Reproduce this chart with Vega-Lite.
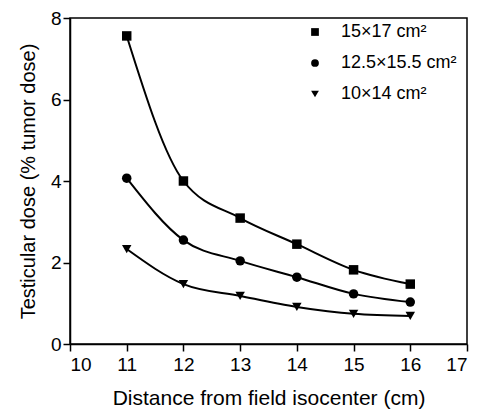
{
  "$schema": "https://vega.github.io/schema/vega-lite/v6.json",
  "width": 397,
  "height": 326,
  "autosize": {"type": "none"},
  "padding": {"left": 70, "top": 18, "right": 17, "bottom": 69},
  "background": "white",
  "config": {
    "font": "Liberation Sans",
    "view": {"stroke": "black", "strokeWidth": 1.5},
    "axis": {"grid": false, "domainColor": "black", "domainWidth": 1.5, "tickColor": "black", "tickWidth": 1.5, "tickSize": 7, "labelColor": "black", "titleColor": "black", "labelFontSize": 19, "titleFontSize": 20, "titleFontWeight": "normal", "labelFont": "Liberation Sans", "titleFont": "Liberation Sans"}
  },
  "data": {
    "values": [
      {"series": "15×17 cm²", "distance": 11, "dose": 7.56},
      {"series": "15×17 cm²", "distance": 12, "dose": 4.0},
      {"series": "15×17 cm²", "distance": 13, "dose": 3.09},
      {"series": "15×17 cm²", "distance": 14, "dose": 2.45},
      {"series": "15×17 cm²", "distance": 15, "dose": 1.82},
      {"series": "15×17 cm²", "distance": 16, "dose": 1.47},
      {"series": "12.5×15.5 cm²", "distance": 11, "dose": 4.07},
      {"series": "12.5×15.5 cm²", "distance": 12, "dose": 2.55},
      {"series": "12.5×15.5 cm²", "distance": 13, "dose": 2.04},
      {"series": "12.5×15.5 cm²", "distance": 14, "dose": 1.64},
      {"series": "12.5×15.5 cm²", "distance": 15, "dose": 1.23},
      {"series": "12.5×15.5 cm²", "distance": 16, "dose": 1.03},
      {"series": "10×14 cm²", "distance": 11, "dose": 2.33},
      {"series": "10×14 cm²", "distance": 12, "dose": 1.47},
      {"series": "10×14 cm²", "distance": 13, "dose": 1.18},
      {"series": "10×14 cm²", "distance": 14, "dose": 0.91},
      {"series": "10×14 cm²", "distance": 15, "dose": 0.74},
      {"series": "10×14 cm²", "distance": 16, "dose": 0.69}
    ]
  },
  "encoding": {
    "x": {"field": "distance", "type": "quantitative", "scale": {"domain": [10, 17], "nice": false}, "axis": {"title": "Distance from field isocenter (cm)", "titleFontSize": 21, "values": [10, 11, 12, 13, 14, 15, 16, 17], "format": "d", "titlePadding": 13, "labelPadding": 4}},
    "y": {"field": "dose", "type": "quantitative", "scale": {"domain": [0, 8], "nice": false}, "axis": {"title": "Testicular dose (% tumor dose)", "values": [0, 2, 4, 6, 8], "format": "d", "titlePadding": 12, "labelPadding": 2}}
  },
  "layer": [
    {
      "mark": {"type": "line", "interpolate": "monotone", "color": "black", "strokeWidth": 2},
      "encoding": {"detail": {"field": "series"}}
    },
    {
      "mark": {"type": "point", "filled": true, "color": "black", "opacity": 1, "size": 90},
      "encoding": {
        "shape": {
          "field": "series",
          "type": "nominal",
          "scale": {"domain": ["15×17 cm²", "12.5×15.5 cm²", "10×14 cm²"], "range": ["square", "circle", "triangle-down"]},
          "legend": {"title": null, "orient": "none", "legendX": 236, "legendY": 5, "labelFontSize": 18, "labelColor": "black", "labelFont": "Liberation Sans", "symbolFillColor": "black", "symbolStrokeColor": "black", "symbolSize": 60, "rowPadding": 13, "labelOffset": 17, "symbolOffset": 0}
        }
      }
    }
  ]
}
